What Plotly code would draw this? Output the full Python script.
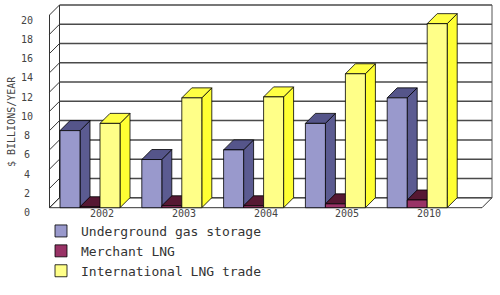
import plotly.graph_objects as go

# ---------------- data ----------------
categories = ["2002", "2003", "2004", "2005", "2010"]
underground_gas_storage = [8.0, 5.0, 6.0, 8.75, 11.4]
merchant_lng = [0.1, 0.2, 0.2, 0.4, 0.8]
international_lng_trade = [8.75, 11.4, 11.5, 13.9, 19.1]
y_tick_values = [0, 2, 4, 6, 8, 10, 12, 14, 16, 18, 20]
series_names = ["Underground gas storage", "Merchant LNG", "International LNG trade"]
y_title = "$ BILLIONS/YEAR"

# ---------------- geometry / style ----------------
W, H = 500, 295
ppx = 81.8          # pixels per category
ppy = 9.635         # pixels per value unit
x0_px = 90.0        # pixel x of category 0
y0_px = 207.7       # pixel y of value 0 (front plane)
ml, mr, mt, mb = 44, 3, 1, 80
plot_w = W - ml - mr
plot_h = H - mt - mb
xr = [(ml - x0_px) / ppx, (W - mr - x0_px) / ppx]
yr = [(y0_px - (H - mb)) / ppy, (y0_px - mt) / ppy]

depth = 10.0
dx = depth / ppx
dy = depth / ppy
bw = 20.0 / ppx
x_left = (49.5 - x0_px) / ppx
x_right_back = (492.0 - x0_px) / ppx
y_top = max(y_tick_values)

front_colors = ["#9999CC", "#993366", "#FFFF88"]
side_colors = ["#5B5B91", "#5E1A38", "#FFFF33"]
top_colors = ["#55558A", "#561833", "#FFFF44"]
grid_color = "#4a4a4a"
offsets = [-bw, 0.0, bw]
series_values = [underground_gas_storage, merchant_lng, international_lng_trade]

shapes = []


def line(x0, y0, x1, y1, color=grid_color, width=1.5):
    shapes.append(dict(type="line", xref="x", yref="y", x0=x0, y0=y0, x1=x1, y1=y1,
                       line=dict(color=color, width=width), layer="below"))


def poly(pts, fill):
    path = "M " + " L ".join(f"{x},{y}" for x, y in pts) + " Z"
    shapes.append(dict(type="path", xref="x", yref="y", path=path, fillcolor=fill,
                       line=dict(color="black", width=0.8), layer="below"))


# floor
poly([(x_left, 0), (x_right_back - dx, 0), (x_right_back, dy), (x_left + dx, dy)], "white")
# back wall gridlines and left wall diagonals
for v in y_tick_values:
    line(x_left + dx, v + dy, x_right_back, v + dy)
    line(x_left, v, x_left + dx, v + dy, color="#333333", width=1)
# wall verticals
line(x_left, 0, x_left, y_top, color="#333333", width=1)
line(x_left + dx, dy, x_left + dx, y_top + dy, color="#333333", width=1)
line(x_right_back, dy, x_right_back, y_top + dy, color="#555555", width=1)

# 3D side and top faces of bars (drawn beneath the front faces)
for i in range(len(categories)):
    for s, vals in enumerate(series_values):
        v = vals[i]
        xl = i + offsets[s] - bw / 2
        xrr = i + offsets[s] + bw / 2
        poly([(xrr, 0), (xrr + dx, dy), (xrr + dx, v + dy), (xrr, v)], side_colors[s])
        poly([(xl, v), (xl + dx, v + dy), (xrr + dx, v + dy), (xrr, v)], top_colors[s])

fig = go.Figure()
for s, vals in enumerate(series_values):
    fig.add_trace(go.Bar(
        x=[i + offsets[s] for i in range(len(categories))],
        y=vals,
        width=bw,
        name=series_names[s],
        marker=dict(color=front_colors[s], line=dict(color="black", width=0.8)),
        hoverinfo="skip",
    ))

annotations = []
tick_font = dict(family="DejaVu Sans Mono", size=10, color="#444444")
for v in y_tick_values:
    annotations.append(dict(x=(27 - ml) / plot_w, xref="paper", y=v, yref="y", yshift=-5,
                            text=str(v), showarrow=False, xanchor="center", yanchor="middle",
                            font=tick_font))
for i, c in enumerate(categories):
    annotations.append(dict(x=i, xref="x", xshift=12, y=0, yref="y", yshift=-6,
                            text=c, showarrow=False, xanchor="center", yanchor="middle",
                            font=tick_font))
annotations.append(dict(x=(11 - ml) / plot_w, xref="paper", y=(y0_px - 122) / ppy, yref="y",
                        text=y_title, textangle=-90, showarrow=False,
                        xanchor="center", yanchor="middle", font=tick_font))

fig.update_layout(
    width=W, height=H,
    margin=dict(l=ml, r=mr, t=mt, b=mb, pad=0),
    paper_bgcolor="white", plot_bgcolor="white",
    barmode="overlay",
    xaxis=dict(range=xr, visible=False, fixedrange=True),
    yaxis=dict(range=yr, visible=False, fixedrange=True),
    shapes=shapes,
    annotations=annotations,
    showlegend=True,
    legend=dict(x=(41 - ml) / plot_w, xanchor="left", y=(H - mb - 216) / plot_h, yanchor="top",
                font=dict(family="DejaVu Sans Mono", size=13, color="#333333"),
                bgcolor="rgba(0,0,0,0)", itemwidth=30, tracegroupgap=0),
    font=dict(family="DejaVu Sans Mono"),
)

fig.write_html("out.html")
